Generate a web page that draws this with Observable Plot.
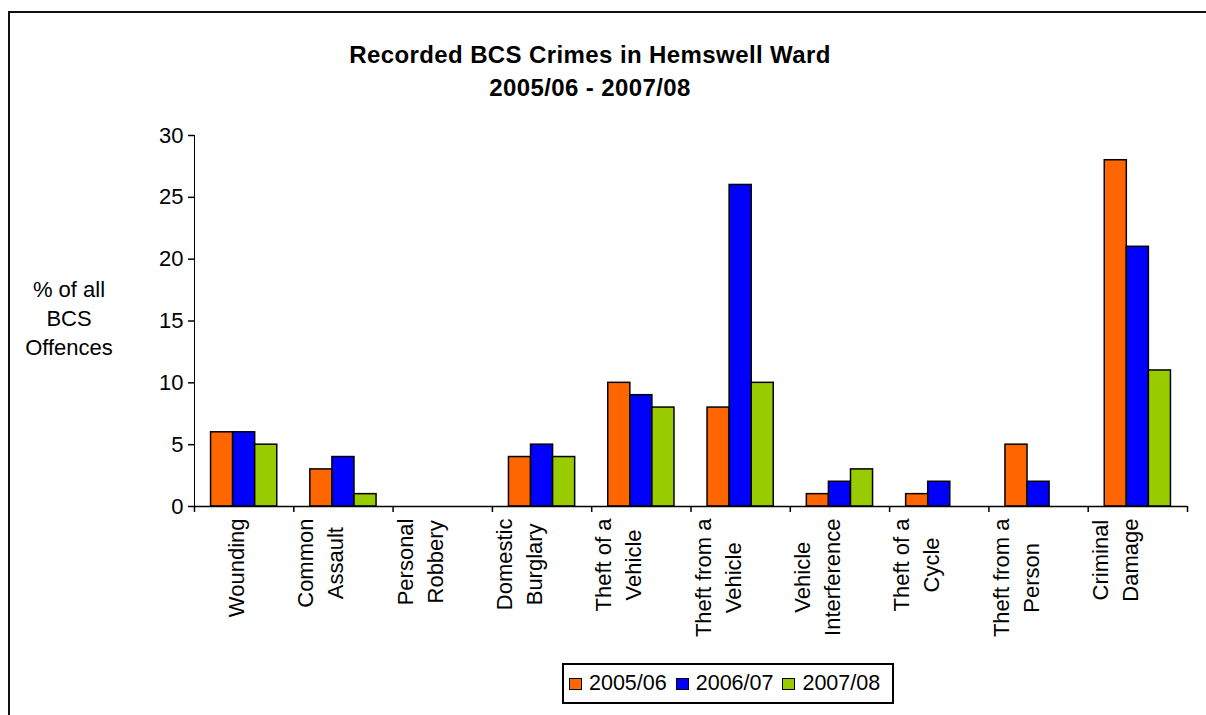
<!DOCTYPE html>
<html>
<head>
<meta charset="utf-8">
<script src="https://cdn.jsdelivr.net/npm/d3@7"></script>
<script src="https://cdn.jsdelivr.net/npm/@observablehq/plot@0.6"></script>
<style>
html, body { margin: 0; padding: 0; background: #fff; overflow: hidden; width: 1206px; height: 715px; }
body { position: relative; font-family: "Liberation Sans", Arial, sans-serif; color: #000; }
#frame { position: absolute; left: 8px; top: 11px; width: 1400px; height: 900px; border: 2px solid #111; box-sizing: border-box; }
#title { position: absolute; left: 290px; width: 600px; top: 38px; text-align: center; font-weight: bold; font-size: 24px; line-height: 33px; letter-spacing: 0.4px; white-space: nowrap; }
#ylabel { position: absolute; left: 9px; width: 120px; top: 275px; text-align: center; font-size: 22px; line-height: 29px; }
#chart { position: absolute; left: 0; top: 0; }
#chart svg g[aria-label="y-axis tick"] path, #chart svg g[aria-label="y-axis line"] line { stroke-width: 1.5px; }
#legend { position: absolute; left: 562px; top: 663px; width: 332px; height: 41px; border: 2px solid #000; box-sizing: border-box; display: flex; align-items: center; padding-left: 5px; font-size: 21.5px; background: #fff; }
.item { display: flex; align-items: center; margin-right: 9px; }
.sw { width: 13px; height: 12px; border: 1.5px solid #000; box-sizing: border-box; margin-right: 7px; }
</style>
</head>
<body>
<div id="frame"></div>
<div id="chart"></div>
<div id="title"></div>
<div id="ylabel"></div>
<div id="legend"></div>
<script>
const categories = ["Wounding", "Common Assault", "Personal Robbery", "Domestic Burglary", "Theft of a Vehicle", "Theft from a Vehicle", "Vehicle Interference", "Theft of a Cycle", "Theft from a Person", "Criminal Damage"];
const categoryLabels = ["Wounding", "Common\nAssault", "Personal\nRobbery", "Domestic\nBurglary", "Theft of a\nVehicle", "Theft from a\nVehicle", "Vehicle\nInterference", "Theft of a\nCycle", "Theft from a\nPerson", "Criminal\nDamage"];
const series = ["2005/06", "2006/07", "2007/08"];
const values2005 = [6, 3, 0, 4, 10, 8, 1, 1, 5, 28];
const values2006 = [6, 4, 0, 5, 9, 26, 2, 2, 2, 21];
const values2007 = [5, 1, 0, 4, 8, 10, 3, 0, 0, 11];
const colors = ["#FF6600", "#0000FF", "#99CC00"];
const yTicks = [0, 5, 10, 15, 20, 25, 30];
const titleLines = ["Recorded BCS Crimes in Hemswell Ward", "2005/06 - 2007/08"];
const yLabelLines = ["% of all", "BCS", "Offences"];

const seriesValues = [values2005, values2006, values2007];
const rows = categories.flatMap((c, i) => series.map((s, j) => ({category: c, series: s, value: seriesValues[j][i]})));

const W = 1206, H = 650, mL = 194, mR = 19, mT = 135, mB = 144;
const bw = (W - mL - mR) / categories.length;
const FS = 22;

const canvas = document.createElement("canvas");
const ctx = canvas.getContext("2d");
ctx.font = FS + 'px "Liberation Sans"';
const maxW = categoryLabels.map(l => Math.max(...l.split("\n").map(s => ctx.measureText(s).width)));

const svg = Plot.plot({
  width: W, height: H,
  marginLeft: mL, marginRight: mR, marginTop: mT, marginBottom: mB,
  style: {fontFamily: '"Liberation Sans", Arial, sans-serif', fontSize: FS + "px", color: "#000", background: "transparent", overflow: "visible"},
  fx: {domain: categories, padding: 0, round: false, axis: null, label: null},
  x: {domain: series, paddingInner: 0, paddingOuter: 0.75, round: false, axis: null},
  y: {domain: [0, 30], ticks: yTicks, tickSize: 6, tickPadding: 5, label: null, line: true},
  color: {domain: series, range: colors},
  marks: [
    Plot.barY(rows.filter(d => d.value > 0), {fx: "category", x: "series", y: "value", fill: "series", stroke: "#000", strokeWidth: 1.5}),
    Plot.ruleY([0], {strokeWidth: 1.5}),
    Plot.ruleX(categories, {fx: d => d, x: null, y1: () => 0, y2: () => 0, insetBottom: -6, dx: -bw / 2, strokeWidth: 1.5}),
    Plot.ruleX(categories.slice(-1), {fx: d => d, x: null, y1: () => 0, y2: () => 0, insetBottom: -6, dx: bw / 2, strokeWidth: 1.5}),
    ...categories.map((c, i) => Plot.text([c], {
      fx: d => d, text: () => categoryLabels[i], frameAnchor: "bottom", rotate: -90,
      textAnchor: "middle", lineHeight: 30 / FS, dy: 12 + maxW[i] / 2, fontSize: FS
    }))
  ]
});
document.getElementById("chart").appendChild(svg);

document.getElementById("title").innerHTML = titleLines.join("<br>");
document.getElementById("ylabel").innerHTML = yLabelLines.join("<br>");
const legend = document.getElementById("legend");
series.forEach((s, j) => {
  const item = document.createElement("div");
  item.className = "item";
  const sw = document.createElement("div");
  sw.className = "sw";
  sw.style.background = colors[j];
  const t = document.createElement("span");
  t.textContent = s;
  item.appendChild(sw);
  item.appendChild(t);
  legend.appendChild(item);
});
</script>
</body>
</html>
